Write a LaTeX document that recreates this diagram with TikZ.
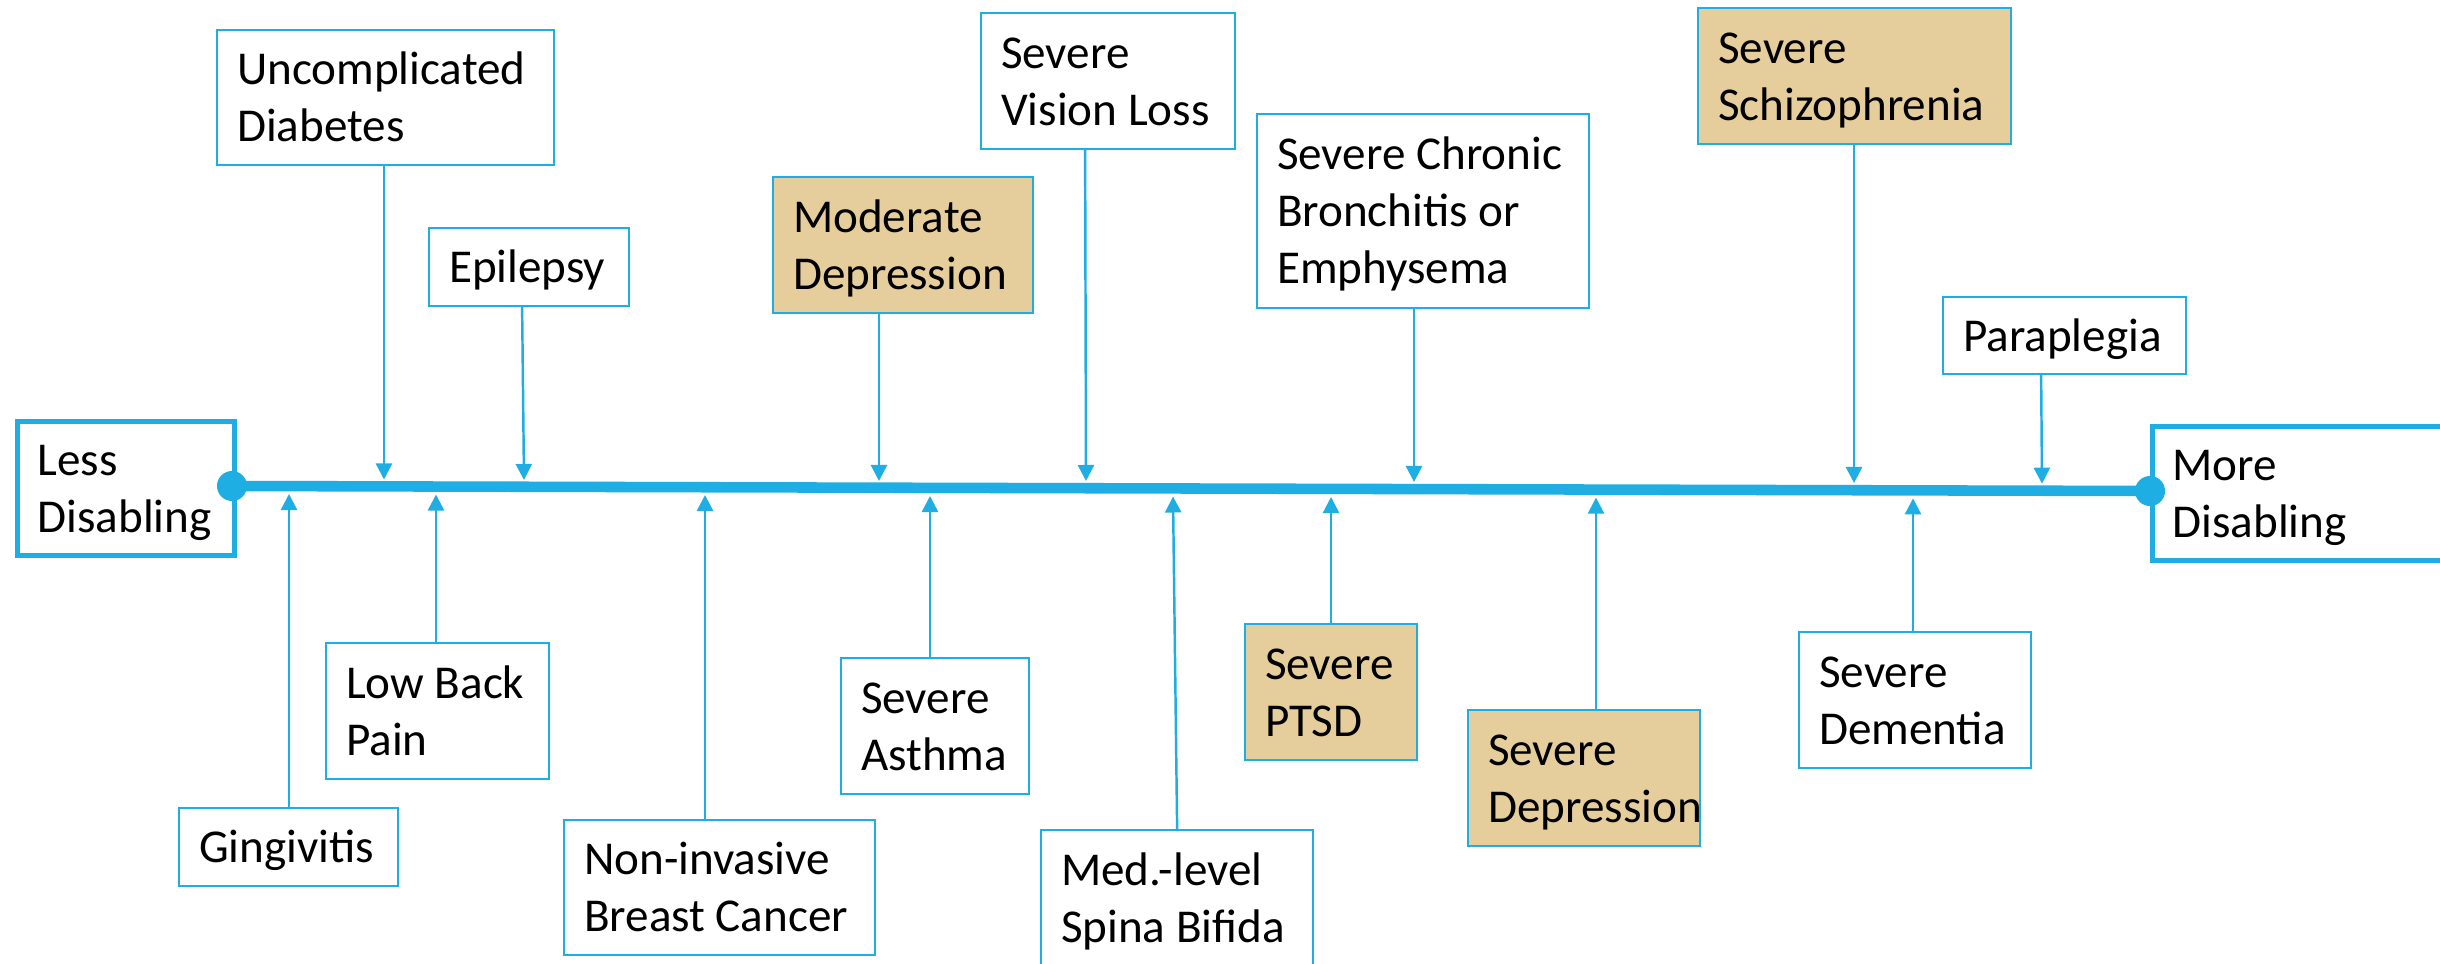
\documentclass[tikz,border=0pt]{standalone}
\usepackage{fontspec}
\setmainfont{Carlito}
\usetikzlibrary{arrows.meta}
\definecolor{myblue}{RGB}{31,174,228}
\definecolor{papyrus}{RGB}{230,206,156}
\newcommand\boxfont{\fontsize{13.4pt}{16.2pt}\selectfont}
\newcommand\bline[1]{\rule[-3.7pt]{0pt}{16.2pt}\mbox{\spaceskip=0pt\relax\xspaceskip=0pt\relax #1}}
\tikzset{
  box/.style={draw=myblue, line width=0.6pt, anchor=north west, inner xsep=0.2cm, inner ysep=0pt,
              align=left, font=\boxfont, fill=white, text=black},
  pap/.style={box, fill=papyrus},
  endbox/.style={box, line width=1.5pt},
  conn/.style={draw=myblue, line width=0.7pt, -{Triangle[width=0.16cm,length=0.16cm]}},
  dot/.style={circle, fill=myblue, minimum size=0.3cm, inner sep=0pt},
}
\begin{document}
\begin{tikzpicture}[x=0.01cm, y=-0.01cm]
\clip (0,0) rectangle (2440,964);
\fill[white] (0,0) rectangle (2440,964);

% end boxes
\node[endbox, text width=1.77cm, minimum height=1.34cm] (less) at (15,419) {\bline{Less}\\\bline{Disabling}};
\node[endbox, text width=2.70cm, minimum height=1.34cm] (more) at (2150,424) {\bline{More}\\\bline{Disabling}};

% upper boxes
\node[box, text width=2.97cm, minimum height=1.35cm] (diab) at (216,29) {\bline{Uncomplicated}\\\bline{Diabetes}};
\node[box, text width=1.60cm, minimum height=0.78cm] (epi) at (428,227) {\bline{Epilepsy}};
\node[pap, text width=2.20cm, minimum height=1.36cm] (moddep) at (772,176) {\bline{Moderate}\\\bline{Depression}};
\node[box, text width=2.14cm, minimum height=1.36cm] (vision) at (980,12) {\bline{Severe}\\\bline{Vision Loss}};
\node[box, text width=2.92cm, minimum height=1.94cm] (bronch) at (1256,113) {\bline{Severe Chronic}\\\bline{Bronchitis or}\\\bline{Emphysema}};
\node[pap, text width=2.73cm, minimum height=1.36cm] (schiz) at (1697,7) {\bline{Severe}\\\bline{Schizophrenia}};
\node[box, text width=2.03cm, minimum height=0.77cm] (para) at (1942,296) {\bline{Paraplegia}};

% lower boxes
\node[box, text width=1.79cm, minimum height=0.78cm] (ging) at (178,807) {\bline{Gingivitis}};
\node[box, text width=1.83cm, minimum height=1.36cm] (lbp) at (325,642) {\bline{Low Back}\\\bline{Pain}};
\node[box, text width=2.71cm, minimum height=1.35cm] (noninv) at (563,819) {\bline{Non-invasive}\\\bline{Breast Cancer}};
\node[box, text width=1.48cm, minimum height=1.36cm] (asthma) at (840,657) {\bline{Severe}\\\bline{Asthma}};
\node[box, text width=2.32cm, minimum height=1.36cm] (spina) at (1040,829) {\bline{Med.-level}\\\bline{Spina Bifida}};
\node[pap, text width=1.32cm, minimum height=1.36cm] (ptsd) at (1244,623) {\bline{Severe}\\\bline{PTSD}};
\node[pap, text width=1.92cm, minimum height=1.36cm] (sevdep) at (1467,709) {\bline{Severe}\\\bline{Depression}};
\node[box, text width=1.92cm, minimum height=1.36cm] (dem) at (1798,631) {\bline{Severe}\\\bline{Dementia}};

% main axis
\coordinate (lc) at (232,486);
\coordinate (rc) at (2150,491);
\draw[myblue, line width=3pt] (lc) -- (rc);
\node[dot] (ldot) at (lc) {};
\node[dot] (rdot) at (rc) {};

% arrow tips on the axis
\coordinate (tdiab) at (384,479.5);
\coordinate (tepi) at (524,480);
\coordinate (tmod) at (879,481);
\coordinate (tvis) at (1086,481);
\coordinate (tbro) at (1414,482);
\coordinate (tsch) at (1854,483);
\coordinate (tpar) at (2042,483.7);
\coordinate (tging) at (289,494);
\coordinate (tlbp) at (436,494.5);
\coordinate (tnon) at (705,495);
\coordinate (tast) at (930,496);
\coordinate (tspi) at (1173,496.5);
\coordinate (tpts) at (1331,497);
\coordinate (tsev) at (1596,497.6);
\coordinate (tdem) at (1913,498.4);

% connectors from above
\draw[conn] (diab.south -| tdiab) -- (tdiab);
\draw[conn] ([xshift=-0.07cm]epi.south) -- (tepi);
\draw[conn] (moddep.south -| tmod) -- (tmod);
\draw[conn] ([xshift=-0.23cm]vision.south) -- (tvis);
\draw[conn] (bronch.south -| tbro) -- (tbro);
\draw[conn] (schiz.south -| tsch) -- (tsch);
\draw[conn] ([xshift=-0.235cm]para.south) -- (tpar);

% connectors from below
\draw[conn] (ging.north -| tging) -- (tging);
\draw[conn] (lbp.north -| tlbp) -- (tlbp);
\draw[conn] (noninv.north -| tnon) -- (tnon);
\draw[conn] (asthma.north -| tast) -- (tast);
\draw[conn] (spina.north) -- (tspi);
\draw[conn] (ptsd.north -| tpts) -- (tpts);
\draw[conn] (sevdep.north -| tsev) -- (tsev);
\draw[conn] (dem.north -| tdem) -- (tdem);
\end{tikzpicture}
\end{document}
